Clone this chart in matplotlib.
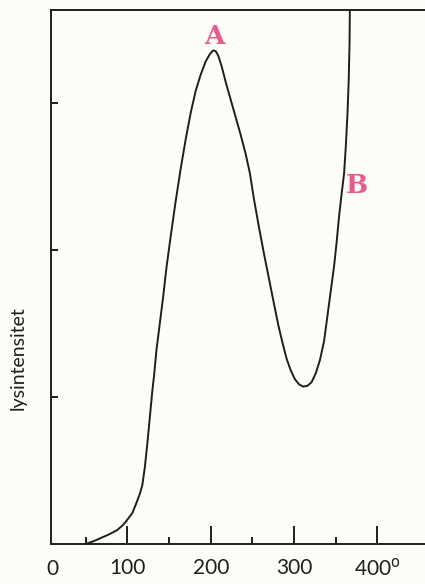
import matplotlib
matplotlib.use("Agg")
import matplotlib.pyplot as plt
from matplotlib.transforms import blended_transform_factory

# Data (temperature in degrees, relative light intensity)
temperature = [50, 60, 68, 78, 88, 95, 100, 106, 111, 115, 118, 121, 124, 126, 128,
               130, 132, 135, 139, 143, 147, 152, 158, 164, 170, 176, 182, 188, 194,
               199, 203, 206, 209, 213, 218, 224, 230, 236, 242, 247, 252, 258, 264,
               270, 276, 281, 286, 291, 296, 301, 306, 311, 316, 321, 326, 331, 336,
               340, 344, 348, 351, 354, 357, 360, 362, 364, 365.5, 366.5, 367]
intensity = [0.0, 0.02, 0.04, 0.065, 0.095, 0.13, 0.165, 0.21, 0.28, 0.34, 0.40, 0.52,
             0.68, 0.80, 0.92, 1.04, 1.14, 1.32, 1.50, 1.68, 1.88, 2.09, 2.33, 2.55,
             2.75, 2.93, 3.08, 3.19, 3.28, 3.33, 3.355, 3.35, 3.32, 3.25, 3.14, 3.02,
             2.90, 2.78, 2.65, 2.52, 2.34, 2.15, 1.97, 1.80, 1.63, 1.49, 1.37, 1.26,
             1.18, 1.12, 1.085, 1.07, 1.075, 1.10, 1.16, 1.25, 1.38, 1.55, 1.72, 1.89,
             2.05, 2.23, 2.38, 2.52, 2.70, 2.92, 3.15, 3.40, 3.7]

major_ticks = [100, 200, 300, 400]
major_labels = ["100", "200", "300", "400$^{\\mathsf{o}}$"]
minor_ticks = [50, 150, 250, 350]
y_ticks = [1, 2, 3]

peak_labels = ["A", "B"]
peak_pos = [(204.5, 3.45), (375, 2.44)]

bg = "#fdfdf8"
pink = "#ea5a8e"
ink = "#1e1e1e"

fig = plt.figure(figsize=(4.25, 5.84), dpi=100, facecolor=bg)
ax = fig.add_axes([0.12, 0.0685, 0.88, 0.9145], facecolor=bg)

ax.plot(temperature, intensity, color=ink, lw=1.4, solid_capstyle="round",
        solid_joinstyle="round")

ax.set_xlim(8.5, 457)
ax.set_ylim(0, 3.63)

for side in ["left", "bottom", "top"]:
    ax.spines[side].set_linewidth(1.4)
    ax.spines[side].set_color(ink)
ax.spines["right"].set_visible(False)

ax.set_xticks(major_ticks)
ax.set_xticklabels(major_labels, family="Lato", fontsize=15, color=ink)
ax.set_xticks(minor_ticks, minor=True)
ax.tick_params(axis="x", which="major", direction="in", length=13, width=1.4,
               color=ink, pad=10)
ax.tick_params(axis="x", which="minor", direction="in", length=5, width=1.4,
               color=ink)
ax.set_yticks(y_ticks)
ax.set_yticklabels([])
ax.tick_params(axis="y", which="major", direction="in", length=5, width=1.4,
               color=ink)

trans = blended_transform_factory(ax.transData, ax.transAxes)
ax.text(10, -0.028, "0", transform=trans, ha="center", va="top",
        family="Lato", fontsize=15, color=ink)

for lab, (x, y) in zip(peak_labels, peak_pos):
    ax.text(x, y, lab, ha="center", va="center", family="DejaVu Serif",
            fontweight="bold", fontsize=19, color=pink)

fig.text(0.042, 0.386, "lysintensitet", rotation=90, ha="center", va="center",
         family=["Liberation Sans Narrow", "Lato"], fontsize=14, color=ink)

fig.savefig("out.png", dpi=100, facecolor=bg)
